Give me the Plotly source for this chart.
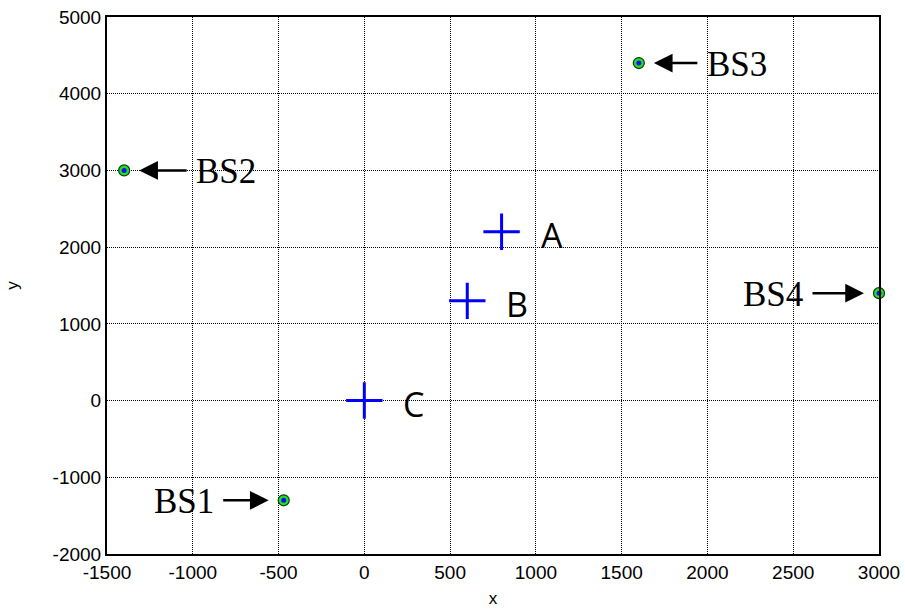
import plotly.graph_objects as go

# Base stations
bs_names = ["BS1", "BS2", "BS3", "BS4"]
bs_x = [-470, -1400, 1600, 3000]
bs_y = [-1300, 3000, 4400, 1400]

# Mobile positions
ms_names = ["A", "B", "C"]
ms_x = [800, 600, 0]
ms_y = [2200, 1300, 0]

x_ticks = [-1500, -1000, -500, 0, 500, 1000, 1500, 2000, 2500, 3000]
y_ticks = [-2000, -1000, 0, 1000, 2000, 3000, 4000, 5000]

# label side per station: +1 text to the right (arrow points left), -1 text to the left
bs_side = [-1, 1, 1, -1]
bs_gap = [68, 70, 66, 74]

fig = go.Figure()

fig.add_trace(go.Scatter(
    x=ms_x, y=ms_y, mode="markers",
    marker=dict(symbol="cross-thin", size=26, color="blue",
                line=dict(color="blue", width=3)),
    showlegend=False, hoverinfo="skip", cliponaxis=False))

fig.add_trace(go.Scatter(
    x=bs_x, y=bs_y, mode="markers",
    marker=dict(symbol="circle", size=11, color="#22dd22",
                line=dict(color="#0a3a0a", width=1.2)),
    showlegend=False, hoverinfo="skip", cliponaxis=False))
fig.add_trace(go.Scatter(
    x=bs_x, y=bs_y, mode="markers",
    marker=dict(symbol="circle", size=5, color="#1010ff"),
    showlegend=False, hoverinfo="skip", cliponaxis=False))

for name, x, y, s, g in zip(bs_names, bs_x, bs_y, bs_side, bs_gap):
    fig.add_annotation(x=x, y=y, xref="x", yref="y", text="",
                       showarrow=True, arrowhead=2, arrowsize=1.5,
                       arrowwidth=2.5, arrowcolor="black",
                       ax=(g - 6) * s, ay=0, standoff=15)
    fig.add_annotation(x=x, y=y, xref="x", yref="y", text=name,
                       showarrow=False,
                       xanchor="left" if s > 0 else "right",
                       xshift=g * s, yshift=-1,
                       font=dict(family="Liberation Serif", size=35, color="black"))

for name, x, y in zip(ms_names, ms_x, ms_y):
    fig.add_annotation(x=x, y=y, xref="x", yref="y", text=name,
                       showarrow=False, xanchor="left", xshift=37, yshift=-3,
                       font=dict(family="Open Sans", size=34, color="black"))

axis_common = dict(
    showgrid=True, gridcolor="black", griddash="1px,1px", gridwidth=1,
    showline=True, linecolor="black", linewidth=2, mirror=True,
    zeroline=False, ticks="", automargin=False,
    tickfont=dict(family="Liberation Sans", size=19, color="black"),
)

fig.update_xaxes(range=[-1500, 3000], tickvals=x_ticks,
                 ticktext=[str(v) for v in x_ticks],
                 title=dict(text="x", standoff=10,
                            font=dict(family="Liberation Sans", size=17, color="black")),
                 **axis_common)
fig.update_yaxes(range=[-2000, 5000], tickvals=y_ticks,
                 ticktext=[str(v) for v in y_ticks],
                 title=dict(text="y", standoff=30,
                            font=dict(family="Liberation Sans", size=17, color="black")),
                 **axis_common)

fig.update_layout(
    width=905, height=610,
    margin=dict(l=107, r=26, t=17, b=56),
    plot_bgcolor="white", paper_bgcolor="white",
)

fig.write_html("out.html")
